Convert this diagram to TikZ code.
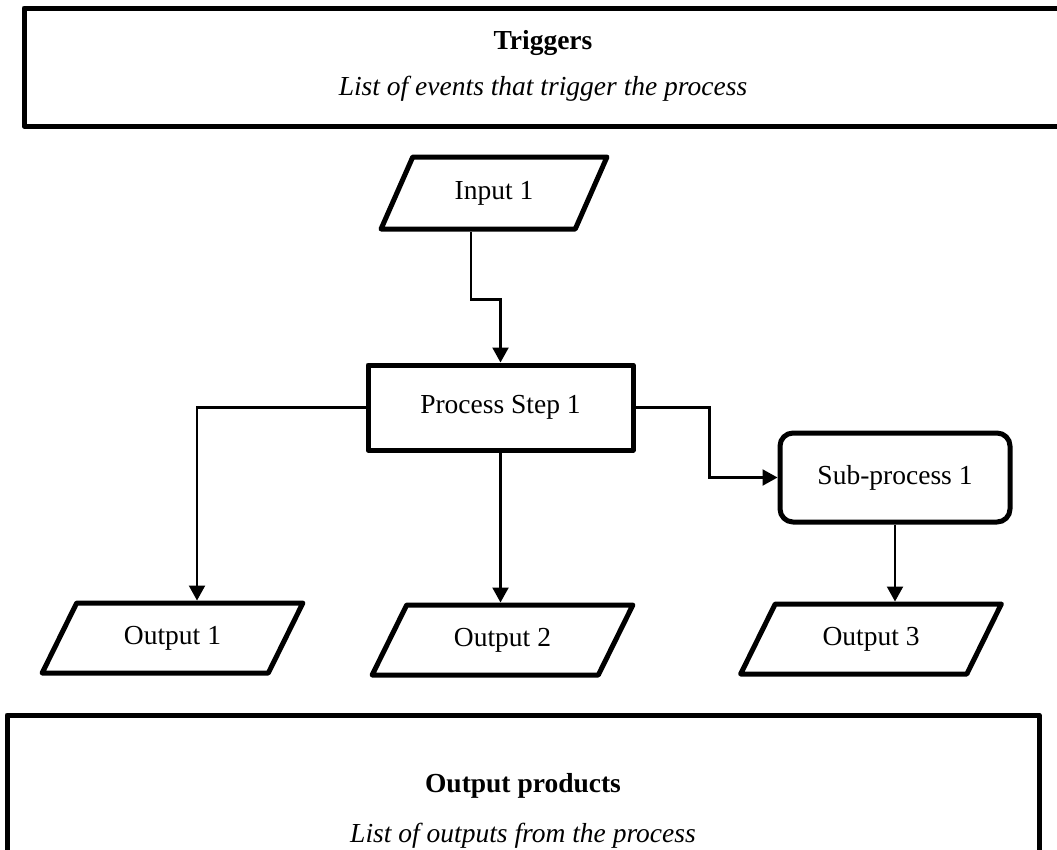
\documentclass[tikz,border=0pt]{standalone}
\usepackage{fontspec}
\setmainfont{Liberation Serif}
\usetikzlibrary{shapes.geometric,arrows.meta}
\begin{document}
\begin{tikzpicture}[x=1pt,y=-1pt,
  every node/.style={font=\fontsize{27.5}{32}\selectfont, inner sep=0pt},
  frame/.style={draw, line width=5pt, line join=round},
  bigbox/.style={frame, rectangle},
  procbox/.style={frame, rectangle},
  subbox/.style={frame, rectangle, rounded corners=13pt},
  io/.style={frame, trapezium, trapezium stretches=true},
  conn/.style={line width=2.2pt, -{Triangle[length=15pt,width=16pt]}}
]
\useasboundingbox (0,0) rectangle (1057,849);

% top box
\node[bigbox, minimum width=1038pt, minimum height=118pt] (top) at (543,67) {};
\node[anchor=base] (trig) at (543,49) {\bfseries Triggers};
\node[anchor=base] (trigl) at (543,95) {\itshape List of events that trigger the process};

% bottom box
\node[bigbox, minimum width=1032pt, minimum height=160pt] (bot) at (523,795) {};
\node[anchor=base] (outp) at (523,792) {\bfseries Output products};
\node[anchor=base] (outpl) at (523,842) {\itshape List of outputs from the process};

% flow nodes
\node[io, minimum width=226pt, minimum height=72pt,
      trapezium left angle=57.4, trapezium right angle=122.6] (in1) at (494,193) {Input 1};
\node[procbox, minimum width=265pt, minimum height=85pt] (proc) at (500.5,407.5) {Process Step 1};
\node[subbox, minimum width=230pt, minimum height=89pt] (sub) at (895,477.5) {Sub-process 1};
\node[io, minimum width=261pt, minimum height=70pt,
      trapezium left angle=54, trapezium right angle=126] (out1) at (172.5,638) {Output 1};
\node[io, minimum width=261pt, minimum height=70pt,
      trapezium left angle=54, trapezium right angle=126] (out2) at (502.5,640) {Output 2};
\node[io, minimum width=261pt, minimum height=70pt,
      trapezium left angle=54, trapezium right angle=126] (out3) at (871,639) {Output 3};

% connectors
\draw[conn] ([xshift=-23pt]in1.south) -- ++(0,68) -| (proc.north);
\draw[conn] (proc.west) -| ([xshift=24.5pt]out1.north);
\draw[conn] (proc.south) -- (proc.south |- out2.north);
\draw[conn] (proc.east) -- ++(74,0) |- (sub.west);
\draw[conn] (sub.south) -- (sub.south |- out3.north);
\end{tikzpicture}
\end{document}
